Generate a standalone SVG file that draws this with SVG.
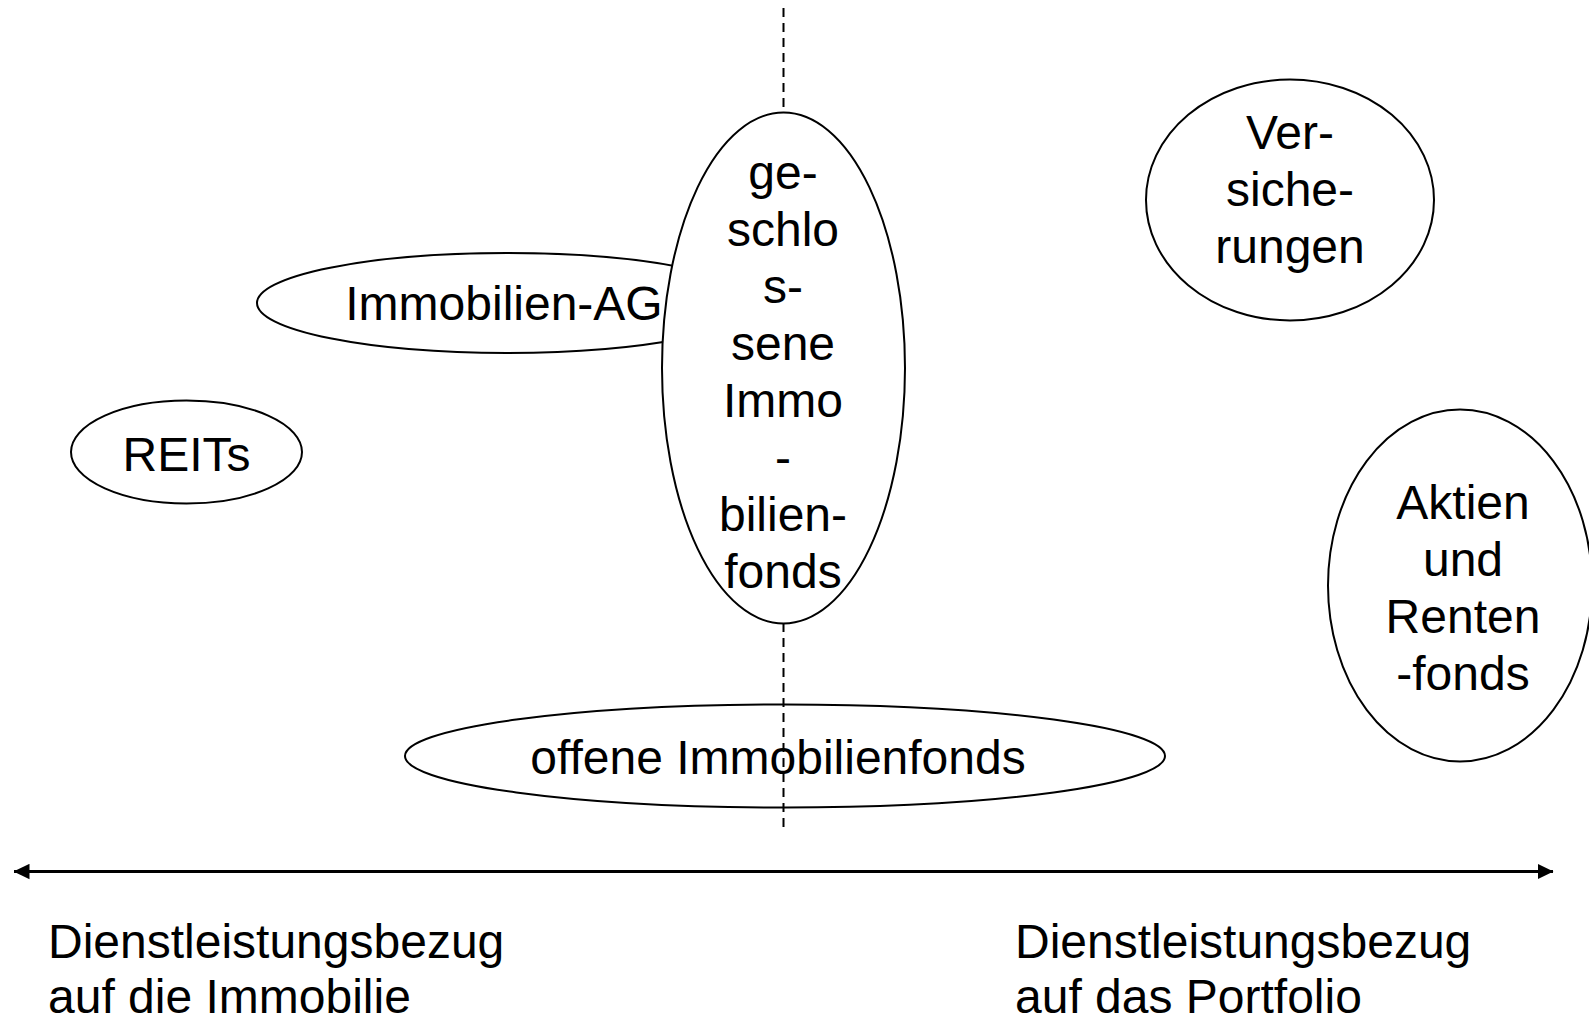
<svg xmlns="http://www.w3.org/2000/svg" width="1589" height="1021" viewBox="0 0 1589 1021">
<style>
.n{fill:#fff;stroke:#000;stroke-width:2}
.t{font-family:"Liberation Sans",Arial,sans-serif;font-size:48px;fill:#000;text-anchor:middle}
.l{font-family:"Liberation Sans",Arial,sans-serif;font-size:48px;fill:#000}
</style>
<defs>
<marker id="ah" viewBox="0 0 16 16" refX="15.5" refY="8" markerWidth="16" markerHeight="16" markerUnits="userSpaceOnUse" orient="auto-start-reverse">
<path d="M0,0.3 L16,8 L0,15.7 Z" fill="#000"/>
</marker>
</defs>
<rect width="1589" height="1021" fill="#fff"/>
<g id="node-reits">
<ellipse class="n" cx="186.5" cy="452" rx="115.5" ry="51.5"/>
<text class="t" x="186.5" y="471">REITs</text>
</g>
<g id="node-immobilien-ag">
<ellipse class="n" cx="507" cy="303" rx="250" ry="50"/>
<text class="t" x="504" y="320">Immobilien-AG</text>
</g>
<g id="node-offene">
<ellipse class="n" cx="785" cy="756" rx="380" ry="51.5"/>
<text class="t" x="778" y="774">offene Immobilienfonds</text>
</g>
<g id="connectors">
<line x1="783.5" y1="8" x2="783.5" y2="833" stroke="#000" stroke-width="2" stroke-dasharray="9,6"/>
<line x1="14" y1="871.5" x2="1553" y2="871.5" stroke="#000" stroke-width="3" marker-start="url(#ah)" marker-end="url(#ah)"/>
</g>
<g id="node-geschlossene">
<ellipse class="n" cx="783.5" cy="368" rx="121.5" ry="255.5"/>
<text class="t" x="783" y="189">ge-</text>
<text class="t" x="783" y="246">schlo</text>
<text class="t" x="783" y="303">s-</text>
<text class="t" x="783" y="360">sene</text>
<text class="t" x="783" y="417">Immo</text>
<text class="t" x="783" y="474">-</text>
<text class="t" x="783" y="531">bilien-</text>
<text class="t" x="783" y="588">fonds</text>
</g>
<g id="node-versicherungen">
<ellipse class="n" cx="1290" cy="200" rx="144" ry="120.5"/>
<text class="t" x="1290" y="149">Ver-</text>
<text class="t" x="1290" y="206">siche-</text>
<text class="t" x="1290" y="263">rungen</text>
</g>
<g id="node-aktien">
<ellipse class="n" cx="1460" cy="585.5" rx="132" ry="176"/>
<text class="t" x="1463" y="519">Aktien</text>
<text class="t" x="1463" y="576">und</text>
<text class="t" x="1463" y="633">Renten</text>
<text class="t" x="1463" y="690">-fonds</text>
</g>
<g id="label-left">
<text class="l" x="48" y="958">Dienstleistungsbezug</text>
<text class="l" x="48" y="1013">auf die Immobilie</text>
</g>
<g id="label-right">
<text class="l" x="1015" y="958">Dienstleistungsbezug</text>
<text class="l" x="1015" y="1013">auf das Portfolio</text>
</g>
</svg>
